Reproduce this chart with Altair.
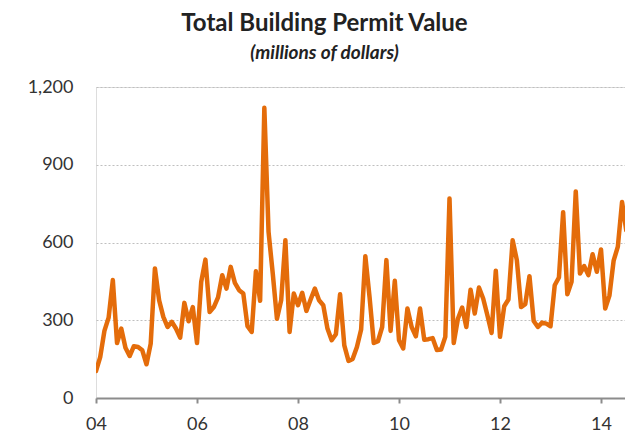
import altair as alt
import pandas as pd

title_text = "Total Building Permit Value"
subtitle_text = "(millions of dollars)"

# Monthly values, millions of dollars (Jan 2004 onward)
v2004 = [104, 158, 259, 310, 455, 212, 268, 194, 162, 200, 197, 184]
v2005 = [130, 210, 500, 377, 313, 274, 294, 268, 233, 367, 296, 351]
v2006 = [212, 448, 534, 332, 351, 388, 474, 422, 506, 444, 416, 403]
v2007 = [277, 255, 489, 375, 1120, 641, 480, 306, 377, 609, 255, 403]
v2008 = [358, 406, 336, 380, 422, 377, 358, 268, 223, 246, 400, 203]
v2009 = [143, 151, 197, 264, 547, 390, 212, 219, 274, 532, 259, 452]
v2010 = [223, 191, 345, 274, 238, 345, 225, 227, 231, 185, 187, 236]
v2011 = [770, 212, 306, 349, 274, 418, 326, 426, 384, 319, 251, 491]
v2012 = [236, 354, 380, 609, 532, 351, 362, 470, 297, 274, 291, 287]
v2013 = [277, 435, 465, 717, 400, 448, 797, 480, 509, 474, 555, 487]
v2014 = [573, 345, 395, 530, 584, 756, 647, 712, 430]

values = v2004 + v2005 + v2006 + v2007 + v2008 + v2009 + v2010 + v2011 + v2012 + v2013 + v2014
start_year = 2004
years = [start_year + i / 12 for i in range(len(values))]

x_ticks = [2004, 2006, 2008, 2010, 2012, 2014]
y_ticks = [0, 300, 600, 900, 1200]
x_domain = [2004, 2014.475]
y_domain = [0, 1200]

df = pd.DataFrame({"year": years, "value": values})

font = "Lato"

chart = (
    alt.Chart(df)
    .mark_line(color="#E46C0A", strokeWidth=4.5, strokeJoin="round", strokeCap="round", clip=True)
    .encode(
        x=alt.X(
            "year:Q",
            scale=alt.Scale(domain=x_domain, nice=False, zero=False),
            axis=alt.Axis(
                values=x_ticks, format="d", labelExpr="slice(datum.label, 2)", title=None,
                grid=False, domainColor="#8C8C8C", domainWidth=2, tickColor="#8C8C8C",
                tickWidth=2, tickSize=5, labelFont=font, labelFontSize=18, labelColor="#333333",
                labelPadding=12, labelFlush=False,
            ),
        ),
        y=alt.Y(
            "value:Q",
            scale=alt.Scale(domain=y_domain, nice=False),
            axis=alt.Axis(
                values=y_ticks, format=",d", title=None, domain=False, ticks=False,
                gridColor="#BFBFBF", gridDash=[2, 2], gridWidth=1,
                labelFont=font, labelFontSize=18, labelColor="#333333", labelPadding=23,
            ),
        ),
    )
    .properties(
        width=529,
        height=311,
        autosize="none",
        padding={"left": 88, "top": 79, "right": 0, "bottom": 34},
        title=alt.TitleParams(
            text=title_text, subtitle=subtitle_text, anchor="middle", dx=-36,
            font=font, fontSize=24, fontWeight="bold", color="#222222",
            subtitleFont=font, subtitleFontSize=19, subtitleFontWeight="bold",
            subtitleFontStyle="italic", subtitleColor="#222222", subtitlePadding=8,
            offset=15,
        ),
    )
    .configure_view(stroke=None)
    .configure(background="white")
)

chart.save("out.html", embed_options={"renderer": "svg", "actions": False})
